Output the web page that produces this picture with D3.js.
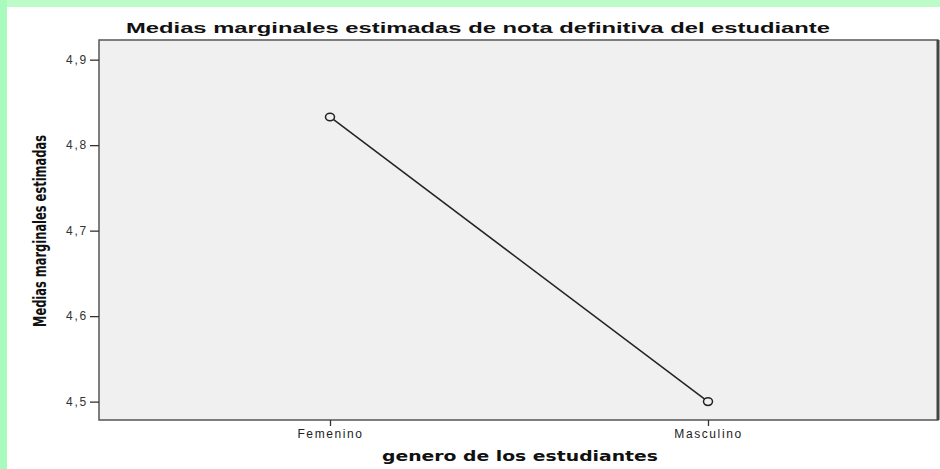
<!DOCTYPE html>
<html>
<head>
<meta charset="utf-8">
<script src="https://cdn.jsdelivr.net/npm/d3@7"></script>
<style>
  body { margin: 0; background: #fff; }
  svg { display: block; }
</style>
</head>
<body>
<svg id="chart" width="940" height="469"></svg>
<script>
// data
var categories = ["Femenino", "Masculino"];
var means = [4.833, 4.500];
var yTicks = [4.5, 4.6, 4.7, 4.8, 4.9];

var svg = d3.select("#chart");
var W = 940, H = 469;
var m = {left: 99, top: 40, right: 938, bottom: 420};

// green frame of the screenshot
svg.append("rect").attr("x", 0).attr("y", 0).attr("width", W).attr("height", 7).attr("fill", "#bbfcc9");
svg.append("rect").attr("x", 0).attr("y", 0).attr("width", 7).attr("height", H).attr("fill", "#a8fbbd");

var y = d3.scaleLinear().domain([4.4785, 4.923]).range([m.bottom, m.top]);
var x = d3.scalePoint().domain(categories).range([330, 708]);

// plot background
svg.append("rect")
  .attr("x", m.left).attr("y", m.top)
  .attr("width", m.right - m.left).attr("height", m.bottom - m.top)
  .attr("fill", "#f0f0f0")
  .attr("stroke", "#555").attr("stroke-width", 1.5);
svg.append("line")
  .attr("x1", m.right).attr("x2", m.right).attr("y1", m.top).attr("y2", m.bottom)
  .attr("stroke", "#444").attr("stroke-width", 3);

// y axis
var yAxis = svg.append("g")
  .attr("transform", `translate(${m.left},0)`)
  .call(d3.axisLeft(y).tickValues(yTicks).tickSize(9).tickPadding(2)
    .tickFormat(d => d3.format(".1f")(d).replace(".", ",")));
yAxis.select(".domain").remove();
yAxis.selectAll("line").attr("stroke", "#333").attr("stroke-width", 1.3);
yAxis.selectAll("text").attr("font-family", "Liberation Sans, Arial, sans-serif")
  .attr("font-size", 12).attr("letter-spacing", 1.8).attr("fill", "#333");

// x axis
var xAxis = svg.append("g")
  .attr("transform", `translate(0,${m.bottom})`)
  .call(d3.axisBottom(x).tickSize(6).tickPadding(3));
xAxis.select(".domain").remove();
xAxis.selectAll("line").attr("stroke", "#333").attr("stroke-width", 1.3);
xAxis.selectAll("text").attr("font-family", "Liberation Sans, Arial, sans-serif")
  .attr("font-size", 12).attr("letter-spacing", 1.6).attr("fill", "#222");

// line and points
var pts = categories.map((c, i) => [x(c), y(means[i])]);
svg.append("path")
  .attr("d", d3.line()(pts))
  .attr("fill", "none").attr("stroke", "#222").attr("stroke-width", 1.5);
svg.selectAll(".pt").data(pts).enter().append("ellipse")
  .attr("class", "pt")
  .attr("cx", d => d[0]).attr("cy", d => d[1]).attr("rx", 4.5).attr("ry", 3.8)
  .attr("fill", "#f0f0f0").attr("stroke", "#222").attr("stroke-width", 1.5);

// titles
svg.append("text")
  .attr("x", 126).attr("y", 33)
  .attr("textLength", 704).attr("lengthAdjust", "spacingAndGlyphs")
  .attr("font-family", "Liberation Sans, Arial, sans-serif")
  .attr("font-weight", "bold").attr("font-size", 15).attr("fill", "#111")
  .text("Medias marginales estimadas de nota definitiva del estudiante");

svg.append("text")
  .attr("x", 382).attr("y", 461)
  .attr("textLength", 276).attr("lengthAdjust", "spacingAndGlyphs")
  .attr("font-family", "DejaVu Sans, Verdana, sans-serif")
  .attr("font-weight", "bold").attr("font-size", 14).attr("fill", "#111")
  .text("genero de los estudiantes");

svg.append("text")
  .attr("transform", "translate(46,327) rotate(-90)")
  .attr("textLength", 192).attr("lengthAdjust", "spacingAndGlyphs")
  .attr("font-family", "Liberation Sans Narrow, DejaVu Sans Condensed, sans-serif")
  .attr("font-weight", "bold").attr("font-size", 17).attr("fill", "#111")
  .text("Medias marginales estimadas");
</script>
</body>
</html>
